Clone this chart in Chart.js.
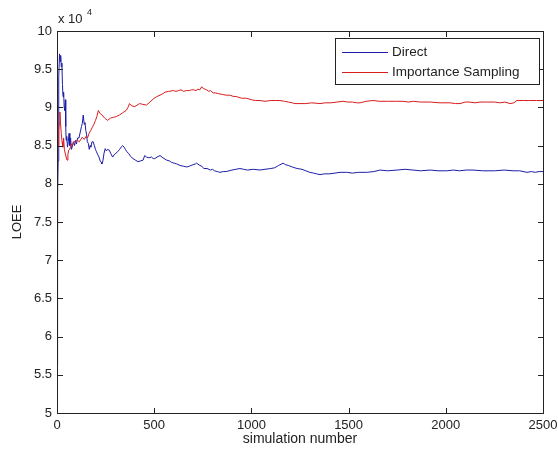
<!DOCTYPE html>
<html><head><meta charset="utf-8">
<script src="https://cdn.jsdelivr.net/npm/chart.js@4/dist/chart.umd.min.js"></script>
<style>html,body{margin:0;padding:0;background:#fff}#wrap{width:558px;height:453px}</style>
</head><body><div id="wrap"><canvas id="c" width="558" height="453"></canvas></div>
<script>
const seriesNames = ["Direct", "Importance Sampling"];
const xTicks = [0, 500, 1000, 1500, 2000, 2500];
const yTicks = [50000,55000,60000,65000,70000,75000,80000,85000,90000,95000,100000];
const directSim = [0,2,4,6,8,10,13,16,19,22,25,28,31,34,37,40,43,45,47,50,54,58,62,66,70,74,78,84,90,95,100,106,113,120,126,130,135,140,144,148,152,156,161,166,170,174,180,186,192,198,203,210,216,222,228,231,236,242,248,254,260,269,276,286,294,303,312,322,330,338,345,352,359,368,378,391,403,417,430,443,451,460,473,486,495,503,515,530,545,564,578,590,603,616,633,650,668,680,690,700,712,718,735,745,755,772,790,800,810,825,838,855,870,885,900,920,941,960,980,1010,1044,1070,1100,1120,1140,1163,1175,1190,1210,1235,1260,1280,1300,1320,1335,1353,1375,1400,1430,1456,1490,1520,1550,1593,1630,1662,1700,1750,1790,1832,1870,1920,1960,2005,2040,2070,2105,2140,2190,2250,2300,2346,2380,2418,2440,2460,2480,2500];
const directLOEE = [56200,70000,79000,83000,90000,94000,97000,96000,96800,95300,95800,93000,91400,92000,90000,89600,91000,87500,85700,86200,84800,85500,86600,85000,86000,84500,84800,85500,85000,85700,85200,86000,86000,86800,87500,87900,89000,87800,88000,87000,86500,85500,85300,84500,85000,84800,85500,85500,85000,84500,84200,83800,83500,83000,82800,82600,83000,84000,84600,84300,84500,84400,84000,83500,83800,84000,84200,84500,84800,85000,84800,84500,84200,84000,83600,83300,83100,82900,83000,83100,83700,83500,83400,83500,83300,83300,83500,83700,83400,83100,83000,82800,82700,82600,82400,82300,82200,82300,82400,82500,82600,82700,82400,82300,82000,82000,81800,81900,81700,81600,81500,81600,81600,81700,81800,81900,82000,81900,81800,81900,81800,81900,82000,82100,82400,82700,82500,82400,82200,82000,81900,81700,81500,81400,81300,81200,81300,81300,81400,81500,81500,81400,81500,81500,81600,81800,81700,81800,81900,81800,81700,81800,81700,81700,81800,81700,81800,81800,81700,81700,81800,81700,81700,81500,81600,81500,81600,81600];
const isSim = [0,2,4,6,9,12,15,18,22,26,30,34,38,43,47,52,56,60,65,69,74,80,86,95,105,115,122,130,140,150,157,165,174,182,190,198,205,213,222,232,245,260,275,290,305,321,338,356,365,373,385,400,412,425,442,460,478,495,512,530,545,556,575,599,612,625,638,651,665,680,692,703,715,725,735,744,752,760,770,780,790,803,815,830,850,870,888,906,925,950,975,1000,1020,1044,1070,1100,1125,1147,1170,1190,1210,1224,1250,1280,1310,1353,1380,1410,1440,1471,1495,1520,1540,1559,1590,1626,1660,1700,1740,1780,1810,1832,1870,1920,1970,2022,2050,2073,2100,2120,2150,2176,2210,2250,2280,2305,2330,2350,2366,2400,2430,2465,2500];
const isLOEE = [74000,82000,86000,85000,87000,88000,89400,88000,86600,85500,84800,86000,84500,83900,83500,83100,83800,84400,84500,84800,85200,85000,85500,85500,85700,85500,85800,86100,85800,86200,86000,86600,87000,87400,87800,88300,88800,89600,89200,89000,88600,88300,88600,88700,88800,89000,89300,89600,90000,90500,90200,90100,90300,90500,90400,90300,90700,91100,91400,91600,91800,92000,92100,92200,92100,92200,92300,92100,92200,92200,92300,92300,92200,92400,92300,92700,92500,92400,92300,92100,92200,91900,91900,91800,91700,91600,91600,91450,91400,91200,91200,91000,90900,90900,90800,90900,90900,90900,90800,90700,90600,90500,90500,90500,90600,90500,90600,90600,90700,90800,90700,90700,90600,90600,90800,90900,90800,90800,90800,90800,90700,90800,90700,90700,90600,90600,90500,90500,90700,90700,90600,90700,90700,90700,90600,90700,90500,90600,90900,90900,90900,90900,90900];
const toPts = (xs, ys) => xs.map((x, i) => ({x: x, y: ys[i]}));
const FONT = "'Liberation Sans', Arial, sans-serif";
const COLORS = ['#1c1ca6', '#d81c1c'];

const frame = {
  id: 'frame',
  afterDraw(chart) {
    const ctx = chart.ctx, a = chart.chartArea;
    const xs = chart.scales.x, ys = chart.scales.y;
    ctx.save();
    ctx.fillStyle = '#222';
    const L = Math.round(a.left), R = Math.round(a.right), T = Math.round(a.top), B = Math.round(a.bottom);
    ctx.fillRect(L, T, R - L + 1, 1);
    ctx.fillRect(L, B, R - L + 1, 1);
    ctx.fillRect(L, T, 1, B - T + 1);
    ctx.fillRect(R, T, 1, B - T + 1);
    for (const v of xTicks) {
      const p = Math.round(xs.getPixelForValue(v));
      ctx.fillRect(p, B - 5, 1, 5);
      ctx.fillRect(p, T + 1, 1, 5);
    }
    for (const v of yTicks) {
      const p = Math.round(ys.getPixelForValue(v));
      ctx.fillRect(L + 1, p, 5, 1);
      ctx.fillRect(R - 5, p, 5, 1);
    }
    ctx.restore();
  }
};

const extras = {
  id: 'extras',
  afterDraw(chart) {
    const ctx = chart.ctx, a = chart.chartArea;
    ctx.save();
    ctx.fillStyle = '#222';
    ctx.font = '13px ' + FONT;
    ctx.textBaseline = 'alphabetic';
    ctx.textAlign = 'left';
    ctx.fillText('x 10', a.left + 1, 23);
    ctx.font = '9px ' + FONT;
    ctx.fillText('4', a.left + 30, 15);
    const lx = 335, ly = 38, lw = 204, lh = 46;
    ctx.fillStyle = '#fff';
    ctx.fillRect(lx + 1, ly + 1, lw - 1, lh - 1);
    ctx.fillStyle = '#222';
    ctx.fillRect(lx, ly, lw + 1, 1);
    ctx.fillRect(lx, ly + lh, lw + 1, 1);
    ctx.fillRect(lx, ly, 1, lh + 1);
    ctx.fillRect(lx + lw, ly, 1, lh + 1);
    ctx.font = '13.5px ' + FONT;
    ctx.textBaseline = 'middle';
    for (let i = 0; i < 2; i++) {
      const yy = ly + 14 + i * 20;
      ctx.fillStyle = COLORS[i];
      ctx.fillRect(lx + 7, yy, 46, 1);
      ctx.fillStyle = '#222';
      ctx.fillText(seriesNames[i], lx + 57, yy);
    }
    ctx.restore();
  }
};

new Chart(document.getElementById('c'), {
  type: 'line',
  data: {
    datasets: [
      {label: seriesNames[0], data: toPts(directSim, directLOEE), borderColor: COLORS[0], borderWidth: 1, pointRadius: 0, tension: 0, order: 2},
      {label: seriesNames[1], data: toPts(isSim, isLOEE), borderColor: COLORS[1], borderWidth: 1, pointRadius: 0, tension: 0, order: 1}
    ]
  },
  options: {
    responsive: false, animation: false, events: [],
    layout: {padding: {left: 0, right: 15, top: 31, bottom: 0}},
    plugins: {legend: {display: false}, tooltip: {enabled: false}},
    scales: {
      x: {type: 'linear', min: 0, max: 2500,
        afterBuildTicks: s => { s.ticks = xTicks.map(v => ({value: v})); },
        afterFit: s => { s.height = 40; s.paddingRight = 0; s.paddingLeft = 0; },
        grid: {display: false, drawTicks: false}, border: {display: false},
        ticks: {padding: 5, color: '#222', font: {family: FONT, size: 13}, maxRotation: 0, callback: v => String(v)},
        title: {display: true, text: 'simulation number', color: '#222', font: {family: FONT, size: 14}, padding: {top: 0, bottom: 5}}},
      y: {type: 'linear', min: 50000, max: 100000,
        afterBuildTicks: s => { s.ticks = yTicks.map(v => ({value: v})); },
        afterFit: s => { s.width = 57; },
        grid: {display: false, drawTicks: false}, border: {display: false},
        ticks: {padding: 5, color: '#222', font: {family: FONT, size: 13}, callback: v => String(v / 10000)},
        title: {display: true, text: 'LOEE', color: '#222', font: {family: FONT, size: 13}, padding: {top: 10, bottom: 0}}}
    }
  },
  plugins: [frame, extras]
});
</script>
</body></html>
